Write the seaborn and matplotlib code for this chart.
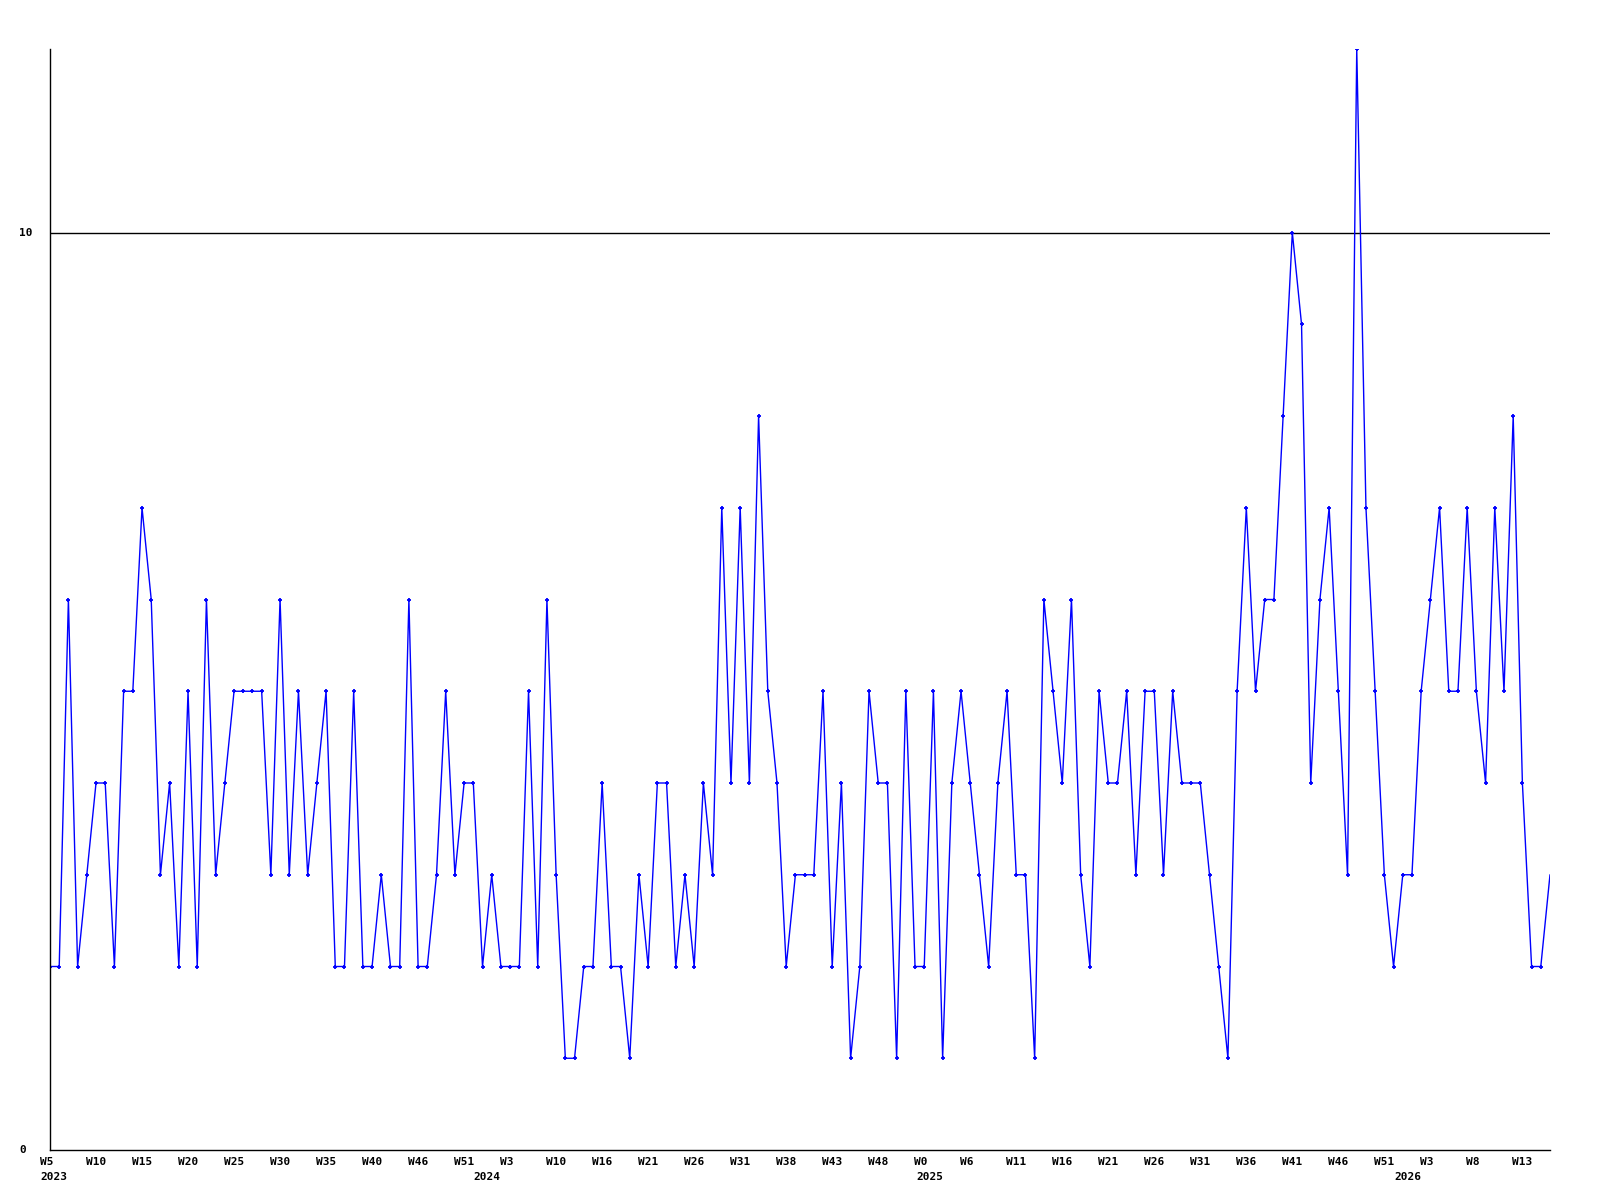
#%% Load dependencies
import numpy as np
import pandas as pd
import seaborn as sns
import matplotlib.pyplot as plt
import matplotlib.transforms as mtransforms

#%% data: weekly counts, W5 2023 -> W15 2026
counts = [2, 2, 6, 2, 3, 4, 4, 2, 5, 5, 7, 6, 3, 4, 2, 5, 2, 6, 3, 4,
          5, 5, 5, 5, 3, 6, 3, 5, 3, 4, 5, 2, 2, 5, 2, 2, 3, 2, 2, 6,
          2, 2, 3, 5, 3, 4, 4, 2, 3, 2, 2, 2, 5, 2, 6, 3, 1, 1, 2, 2,
          4, 2, 2, 1, 3, 2, 4, 4, 2, 3, 2, 4, 3, 7, 4, 7, 4, 8, 5, 4,
          2, 3, 3, 3, 5, 2, 4, 1, 2, 5, 4, 4, 1, 5, 2, 2, 5, 1, 4, 5,
          4, 3, 2, 4, 5, 3, 3, 1, 6, 5, 4, 6, 3, 2, 5, 4, 4, 5, 3, 5,
          5, 3, 5, 4, 4, 4, 3, 2, 1, 5, 7, 5, 6, 6, 8, 10, 9, 4, 6, 7,
          5, 3, 12, 7, 5, 3, 2, 3, 3, 5, 6, 7, 5, 5, 7, 5, 4, 7, 5, 8,
          4, 2, 2, 3]

weekLabels = ['W5', 'W10', 'W15', 'W20', 'W25', 'W30', 'W35', 'W40', 'W46', 'W51',
              'W3', 'W10', 'W16', 'W21', 'W26', 'W31', 'W38', 'W43', 'W48', 'W0',
              'W6', 'W11', 'W16', 'W21', 'W26', 'W31', 'W36', 'W41', 'W46', 'W51',
              'W3', 'W8', 'W13']
yearLabels = ['2023', '2024', '2025', '2026']
yearPos = [-1.1, 46.0, 94.1, 146.1]   # week index where the year label starts

yTicks = [0, 10]

dfPlot = pd.DataFrame({'week': np.arange(len(counts)), 'count': counts})

#%% plot settings
sns.set_style('white')
plt.rcParams['font.family'] = ['DejaVu Sans Mono']
fontKw = dict(fontsize=8, fontweight='bold', color='black')

fig = plt.figure(figsize=(16, 12), dpi=100)
ax = fig.add_axes([50/1600, 1 - 1150/1200, 1500/1600, 1101/1200])

# last week has no marker in the original (still running)
sns.lineplot(data=dfPlot, x='week', y='count', ax=ax, color='#0000ff', linewidth=1,
             marker='+', markersize=3.5, markeredgewidth=1.3, markeredgecolor='#0000ff',
             markevery=list(range(len(counts) - 1)))

ax.axhline(10, color='black', linewidth=1, zorder=1)

for side in ['top', 'right']:
    ax.spines[side].set_visible(False)
for side in ['left', 'bottom']:
    ax.spines[side].set_color('black')
    ax.spines[side].set_linewidth(1)

ax.set_xticks([])
ax.set_yticks([])
ax.set_xlabel('')
ax.set_ylabel('')
ax.set_xlim(0, len(counts) - 1)
ax.set_ylim(0, 12)

# week labels, one every 5 points, left aligned like the original
tickPos = np.arange(len(weekLabels)) * 5 - 1.1
for lab, pos in zip(weekLabels, tickPos):
    ax.annotate(lab, xy=(pos, 0), xycoords=('data', 'axes fraction'), xytext=(0, -5),
                textcoords='offset points', ha='left', va='top',
                annotation_clip=False, **fontKw)

for yr, pos in zip(yearLabels, yearPos):
    ax.annotate(yr, xy=(pos, 0), xycoords=('data', 'axes fraction'), xytext=(0, -16),
                textcoords='offset points', ha='left', va='top',
                annotation_clip=False, **fontKw)

# y labels sit left aligned near the figure edge
trans = mtransforms.blended_transform_factory(fig.transFigure, ax.transData)
for yv in yTicks:
    fig.text(19/1600, yv, str(yv), transform=trans, ha='left', va='center', **fontKw)

fig.savefig('out.png', dpi=100)
plt.close()
